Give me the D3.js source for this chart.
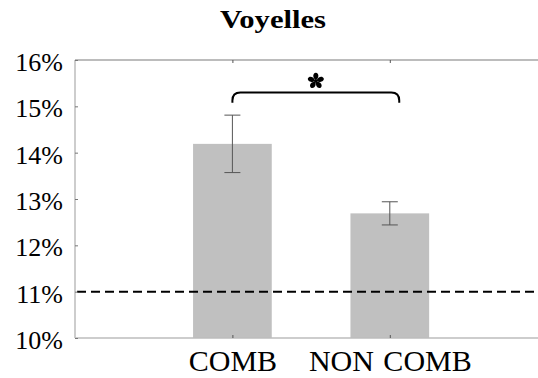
<!DOCTYPE html>
<html>
<head>
<meta charset="utf-8">
<script src="https://cdn.jsdelivr.net/npm/d3@7"></script>
<style>
  html, body { margin: 0; padding: 0; background: #fff; }
  svg { display: block; }
  svg text { font-family: 'Liberation Serif', 'DejaVu Serif', serif; }
</style>
</head>
<body>
<svg id="chart" width="538" height="378"></svg>
<script>
// Vowel scores per condition (percent), with error-bar half-widths
const categories = ["COMB", "NON COMB"];
const means = [14.19, 12.69];
const errors = [0.62, 0.25];
const chanceLevel = 11;
const yTicks = [10, 11, 12, 13, 14, 15, 16];
const title = "Voyelles";
// significance bracket between the two conditions (x in category units, y in %)
const bracketSpan = [1, 2.06];
const bracketLevel = [15.08, 15.3];

const svg = d3.select("#chart");
const W = 538, H = 378;
const plotLeft = 75, plotTop = 60, plotBottom = 338;

const x = d3.scaleLinear().domain([0, categories.length + 1]).range([plotLeft, plotLeft + 3 * 157.4]);
const y = d3.scaleLinear().domain([10, 16]).range([plotBottom, plotTop]);
const serif = "'Liberation Serif', 'DejaVu Serif', serif";

// title
svg.append("text")
  .attr("x", 273).attr("y", 28)
  .attr("text-anchor", "middle")
  .style("font-family", serif).style("font-weight", "bold")
  .style("font-size", "25px")
  .attr("textLength", 106).attr("lengthAdjust", "spacingAndGlyphs")
  .text(title);

const plot = svg.append("g");

// bars
plot.selectAll("rect.bar").data(means).join("rect")
  .attr("class", "bar")
  .attr("x", (d, i) => x(i + 1 - 0.25))
  .attr("width", (d, i) => x(i + 1.25) - x(i + 0.75))
  .attr("y", d => y(d))
  .attr("height", d => y(10) - y(d))
  .attr("fill", "#c0c0c0");

// error bars
const eb = plot.selectAll("g.err").data(means).join("g").attr("class", "err")
  .attr("stroke", "#555").attr("stroke-width", 1).attr("fill", "none");
eb.append("line")
  .attr("x1", (d, i) => x(i + 1)).attr("x2", (d, i) => x(i + 1))
  .attr("y1", (d, i) => y(d + errors[i])).attr("y2", (d, i) => y(d - errors[i]));
eb.append("line")
  .attr("x1", (d, i) => x(i + 1) - 8).attr("x2", (d, i) => x(i + 1) + 8)
  .attr("y1", (d, i) => y(d + errors[i])).attr("y2", (d, i) => y(d + errors[i]));
eb.append("line")
  .attr("x1", (d, i) => x(i + 1) - 8).attr("x2", (d, i) => x(i + 1) + 8)
  .attr("y1", (d, i) => y(d - errors[i])).attr("y2", (d, i) => y(d - errors[i]));

// chance level
plot.append("line")
  .attr("x1", x(0) + 2).attr("x2", W)
  .attr("y1", y(chanceLevel)).attr("y2", y(chanceLevel))
  .attr("stroke", "#000").attr("stroke-width", 2)
  .attr("stroke-dasharray", "9,5");

// axes frame
const frame = svg.append("g").attr("fill", "none");
frame.append("line").attr("x1", x(0)).attr("x2", W).attr("y1", plotTop).attr("y2", plotTop)
  .attr("stroke", "#7a7a7a").attr("stroke-width", 1.2);
frame.append("line").attr("x1", x(0)).attr("x2", W).attr("y1", plotBottom).attr("y2", plotBottom)
  .attr("stroke", "#bdbdbd").attr("stroke-width", 1.5);
frame.append("line").attr("x1", x(0)).attr("x2", x(0)).attr("y1", plotTop).attr("y2", plotBottom)
  .attr("stroke", "#bdbdbd").attr("stroke-width", 1.5);

// y axis
const yAxis = d3.axisLeft(y).tickValues(yTicks).tickSize(-3).tickPadding(12)
  .tickFormat(d => d + "%");
const gy = svg.append("g").attr("transform", `translate(${x(0)},0)`).call(yAxis);
gy.select(".domain").remove();
gy.attr("font-family", null).attr("font-size", null);
gy.selectAll(".tick line").attr("stroke", "#777");
gy.selectAll(".tick text")
  .style("font-family", serif).style("font-size", "26px").attr("fill", "#000")
  .attr("dy", "0.4em");

// x axis (bottom labels + inward ticks, mirrored ticks on top)
const catPos = categories.map((c, i) => i + 1);
const xAxis = d3.axisBottom(x).tickValues(catPos).tickSize(-3).tickPadding(12)
  .tickFormat((d, i) => categories[i]);
const gx = svg.append("g").attr("transform", `translate(0,${plotBottom})`).call(xAxis);
gx.select(".domain").remove();
gx.attr("font-family", null).attr("font-size", null);
gx.selectAll(".tick line").attr("stroke", "#555");
gx.selectAll(".tick text")
  .style("font-family", serif).style("font-size", "30px").attr("fill", "#000")
  .style("word-spacing", "2px")
  .attr("dy", "21px");
const gxt = svg.append("g").attr("transform", `translate(0,${plotTop})`)
  .call(d3.axisTop(x).tickValues(catPos).tickSize(-3).tickFormat(""));
gxt.select(".domain").remove();
gxt.selectAll(".tick line").attr("stroke", "#555");

// significance bracket with rounded corners
const bx0 = x(bracketSpan[0]), bx1 = x(bracketSpan[1]);
const byTop = y(bracketLevel[1]), byEnd = y(bracketLevel[0]);
const r = 8;
svg.append("path")
  .attr("d", `M${bx0},${byEnd} L${bx0},${byTop + r} Q${bx0},${byTop} ${bx0 + r},${byTop}` +
             ` L${bx1 - r},${byTop} Q${bx1},${byTop} ${bx1},${byTop + r} L${bx1},${byEnd}`)
  .attr("fill", "none").attr("stroke", "#000").attr("stroke-width", 2);

// asterisk: five teardrop petals
const cx = (bx0 + bx1) / 2, cy = byTop - 11.5;
const star = svg.append("g").attr("transform", `translate(${cx},${cy})`);
for (let k = 0; k < 5; k++) {
  star.append("path")
    .attr("transform", `rotate(${k * 72})`)
    .attr("d", "M0,-0.8 C-3.4,-3 -3.4,-8 0,-8.3 C3.4,-8 3.4,-3 0,-0.8 Z")
    .attr("fill", "#000");
}
star.append("circle").attr("r", 1.8).attr("fill", "#000");
</script>
</body>
</html>
